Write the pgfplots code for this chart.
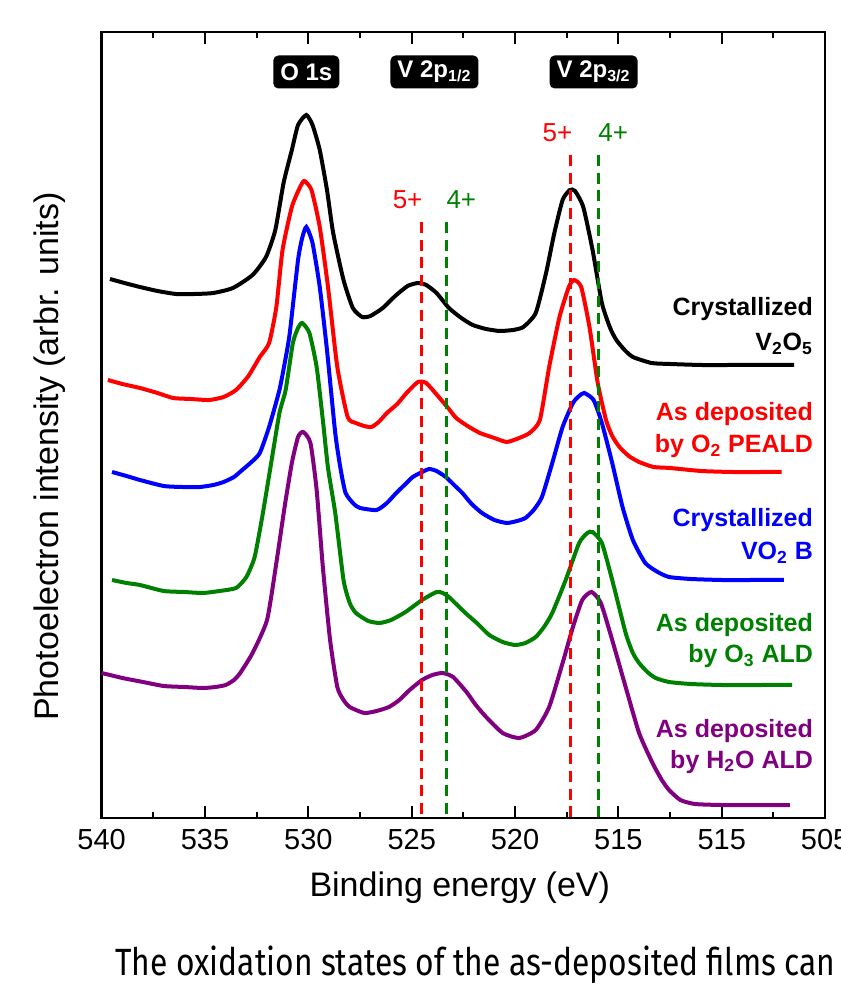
\documentclass[border=0pt]{standalone}
\usepackage{fontspec}
\setmainfont{Liberation Sans}
\newfontfamily\capfont{Fira Sans}
\usepackage{graphicx}
\usepackage{pgfplots}
\usepackage{pgfplotstable}
\pgfplotsset{compat=1.18}

\definecolor{xgreen}{RGB}{0,128,0}
\definecolor{xpurple}{RGB}{128,0,128}

% binding energy (eV) vs intensity (arbr. units, offset per spectrum)
\pgfplotstableread{
E I
539.6 539
538.9 535
538.15 531
537.3 527
536.4 524
535.5 524
534.6 525
533.65 530
532.7 543
532.05 561
531.6 588
531.2 635
530.8 668
530.5 693
530.1 703
529.8 693
529.45 668
529.1 628
528.8 585
528.3 538
527.85 510
527.4 501
527.0 502
526.4 510
525.8 522
525.2 532
524.7 535
524.3 533
523.8 525
523.2 510
522.6 500
522.05 493
521.4 489
520.75 487
520.1 488
519.6 491
519.0 505
518.5 545
518.1 585
517.7 618
517.35 628
517.1 627
516.7 611
516.25 568
515.8 515
515.4 490
515.1 478
514.7 468
514.3 461
513.4 455
512.5 454
511.0 453
509.5 453
508.0 453
506.5 453
}\tblack

\pgfplotstableread{
E I
539.7 438
539.0 434
538.15 430
537.3 425
536.55 420
535.7 419
534.8 418
534.1 421
533.5 428
532.9 442
532.35 461
531.9 475
531.55 511
531.25 568
530.8 611
530.4 631
530.2 637
529.85 628
529.45 591
529.05 531
528.6 451
528.1 401
527.7 395
527.3 392
526.95 391
526.6 396
526.2 405
525.7 414
525.25 425
524.7 436
524.3 435
523.65 420
523.2 409
522.85 400
522.3 392
521.7 385
521.0 380
520.4 376
519.8 380
519.3 385
518.8 398
518.35 451
517.85 501
517.4 531
517.15 538
516.8 531
516.4 491
516.0 435
515.6 398
515.3 382
514.95 371
514.5 362
514.0 356
513.3 351
512.5 350
511.0 347
509.5 346
508.0 346
507.1 346
}\tred

\pgfplotstableread{
E I
539.5 346
538.8 342
538.15 338
537.0 332
536.1 331
535.25 331
534.6 333
534.1 336
533.6 341
533.2 348
532.75 356
532.35 365
531.9 391
531.4 428
531.1 460
530.9 485
530.5 558
530.3 580
530.1 591
529.8 575
529.45 531
529.1 468
528.7 385
528.45 350
528.2 325
527.8 314
527.5 310
526.7 308
526.2 315
525.75 325
525.3 334
524.95 341
524.5 346
524.15 349
523.8 347
523.35 341
522.95 333
522.55 325
522.1 314
521.6 305
521.0 298
520.4 295
519.9 297
519.5 300
519.1 308
518.7 321
518.2 355
517.7 391
517.2 415
516.9 422
516.65 425
516.2 418
515.8 395
515.3 355
514.8 311
514.3 278
513.7 255
513.1 246
512.55 241
511.5 239
510.0 238
508.5 238
507.0 238
}\tblue

\pgfplotstableread{
E I
539.5 238
538.8 235
538.15 233
537.0 227
536.0 226
535.1 225
534.3 227
533.5 230
533.0 241
532.6 261
532.2 305
531.8 355
531.4 405
531.1 428
530.75 475
530.5 490
530.3 495
529.95 485
529.6 451
529.3 398
529.05 350
528.7 305
528.3 238
528.0 215
527.7 205
527.1 197
526.55 195
526.0 198
525.3 206
524.5 218
523.8 226
523.5 225
523.2 221
522.8 213
522.4 205
521.8 194
521.25 183
520.6 176
520.0 173
519.5 175
519.0 181
518.6 191
518.2 205
517.55 238
516.9 275
516.5 285
516.25 286
515.8 275
515.3 238
514.65 185
514.3 165
514.0 155
513.6 146
513.2 140
512.55 136
511.5 134
510.0 133
508.0 133
506.6 133
}\tgreen

\pgfplotstableread{
E I
540.0 145
539.0 140
538.0 136
537.0 132
536.0 131
535.1 130
534.5 131
534.0 133
533.6 138
533.3 145
532.7 165
532.0 198
531.55 255
531.15 311
530.8 355
530.5 381
530.25 386
529.9 375
529.6 328
529.3 251
528.95 178
528.6 131
528.3 118
528.0 111
527.3 105
526.7 107
526.1 111
525.6 118
525.1 128
524.5 138
524.0 143
523.5 145
523.0 141
522.35 126
521.9 113
521.4 101
520.6 85
519.8 80
519.0 88
518.35 111
517.7 155
517.2 191
516.75 218
516.3 226
515.85 215
515.3 178
514.65 131
514.0 85
513.35 55
512.9 38
512.55 28
512.0 18
511.3 14
510.0 13
508.0 13
506.7 13
}\tpurple

\begin{document}
\begin{tikzpicture}
\tikzset{
  peak/.style={fill=black, text=white, rounded corners=2.5pt,
    font=\bfseries\fontsize{12}{14}\selectfont, inner xsep=3.5pt, inner ysep=0pt,
    minimum height=16.5pt},
  slab/.style={anchor=base east, inner sep=0pt, font=\bfseries\fontsize{12.5}{15}\selectfont},
  ox/.style={font=\fontsize{13}{15}\selectfont},
  spec/.style={line width=2pt, smooth, tension=0.35, mark=none},
  ref/.style={line width=1.5pt, dash pattern=on 5.5pt off 3.3pt, mark=none},
}
\begin{axis}[
  at={(0,0)}, anchor=south west,
  scale only axis, width=361.7pt, height=393pt,
  x dir=reverse, xmin=505, xmax=540, ymin=0, ymax=786,
  xtick={505,510,...,540},
  xticklabels={505,515,515,520,525,530,535,540},
  minor x tick num=1,
  ytick=\empty,
  tick align=inside,
  major tick length=6pt, minor tick length=3pt,
  every tick/.style={black, line width=1pt},
  axis line style={line width=1.2pt},
  xticklabel style={font=\fontsize{14.5}{17}\selectfont, yshift=-2pt},
  xlabel={Binding energy (eV)},
  ylabel={Photoelectron intensity (arbr. units)},
  label style={font=\fontsize{17}{20}\selectfont},
  xlabel style={at={(axis description cs:0.495,-0.089)}, anchor=center},
  ylabel style={at={(axis description cs:-0.0715,0.46)}, anchor=center},
  clip=false,
]
\addplot[spec, black] table {\tblack};
\addplot[spec, red] table {\tred};
\addplot[spec, blue] table {\tblue};
\addplot[spec, xgreen] table {\tgreen};
\addplot[spec, xpurple] table {\tpurple};

\addplot[ref, red] coordinates {(524.55,596) (524.55,0)};
\addplot[ref, xgreen] coordinates {(523.3,596) (523.3,0)};
\addplot[ref, red] coordinates {(517.33,663) (517.33,0)};
\addplot[ref, xgreen] coordinates {(515.96,663) (515.96,0)};

\node[ox, text=red] at (axis cs:525.2,618) {5+};
\node[ox, text=xgreen] at (axis cs:522.6,618) {4+};
\node[ox, text=red] at (axis cs:517.95,685) {5+};
\node[ox, text=xgreen] at (axis cs:515.25,685) {4+};

\node[peak] at (axis cs:530.1,746) {O 1s};
\node[peak] at (axis cs:523.9,746) {V 2p\textsubscript{1/2}};
\node[peak] at (axis cs:516.2,746) {V 2p\textsubscript{3/2}};

\node[slab, text=black] at (axis cs:505.57,502) {Crystallized};
\node[slab, text=black] at (axis cs:505.57,467) {V\textsubscript{2}O\textsubscript{5}};
\node[slab, text=red] at (axis cs:505.57,397) {As deposited};
\node[slab, text=red] at (axis cs:505.57,365) {by O\textsubscript{2} PEALD};
\node[slab, text=blue] at (axis cs:505.57,291) {Crystallized};
\node[slab, text=blue] at (axis cs:505.57,258) {VO\textsubscript{2} B};
\node[slab, text=xgreen] at (axis cs:505.57,186) {As deposited};
\node[slab, text=xgreen] at (axis cs:505.57,155) {by O\textsubscript{3} ALD};
\node[slab, text=xpurple] at (axis cs:505.57,81) {As deposited};
\node[slab, text=xpurple] at (axis cs:505.57,50) {by H\textsubscript{2}O ALD};
\end{axis}
\node[anchor=base west, inner sep=0pt] at (6.65pt,-78.5pt)
  {\resizebox{360pt}{14.8pt}{\capfont The oxidation states of the as-deposited films can}};
\pgfresetboundingbox
\useasboundingbox (-50.85pt,-85pt) rectangle (369.15pt,409pt);
\end{tikzpicture}
\end{document}
